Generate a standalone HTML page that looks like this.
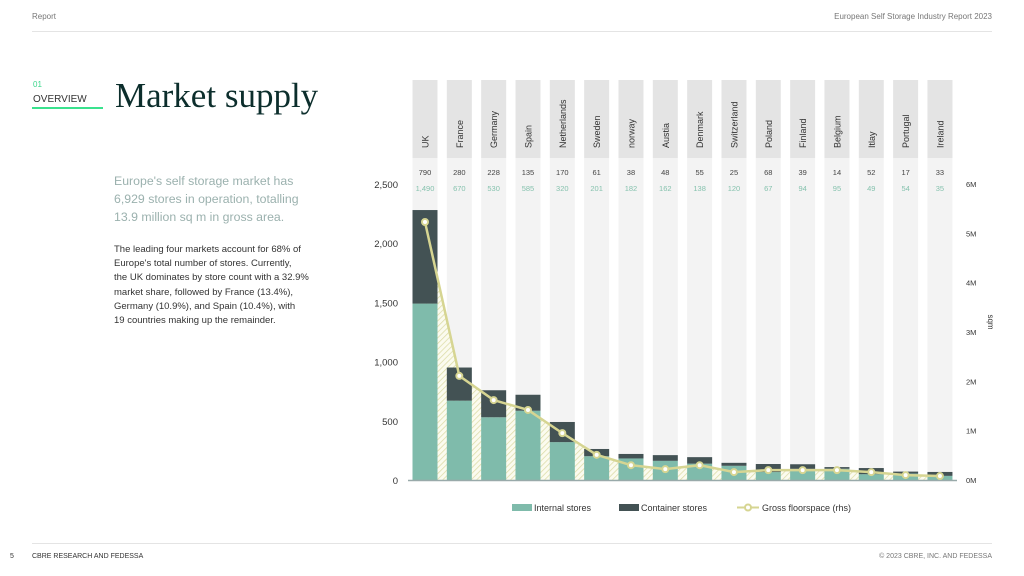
<!DOCTYPE html>
<html><head><meta charset="utf-8"><style>
body{margin:0;width:1024px;height:576px;background:#fff;font-family:"Liberation Sans",sans-serif;position:relative;overflow:hidden}
.a{position:absolute}
</style></head><body>
<div class="a" style="left:32px;top:12px;font-size:8px;color:#777">Report</div>
<div class="a" style="right:32px;top:12px;font-size:8px;color:#777">European Self Storage Industry Report 2023</div>
<div class="a" style="left:32px;right:32px;top:31px;border-top:1px solid #e4e4e4"></div>
<div class="a" style="left:33px;top:80px;font-size:8px;color:#3cd68c">01</div>
<div class="a" style="left:33px;top:94px;font-size:10px;color:#333">OVERVIEW</div>
<div class="a" style="left:32px;top:107px;width:71px;height:2px;background:#3ae28e"></div>
<div class="a" style="left:115px;top:76px;font-family:'Liberation Serif',serif;font-size:35px;color:#0c2e2c">Market supply</div>
<div class="a" style="left:114px;top:172px;width:205px;font-size:12.3px;line-height:18px;color:#9bb1ae">Europe's self storage market has 6,929 stores in operation, totalling 13.9 million sq m in gross area.</div>
<div class="a" style="left:114px;top:243px;width:260px;font-size:9.5px;line-height:14.2px;color:#333;white-space:nowrap">The leading four markets account for 68% of<br>Europe's total number of stores. Currently,<br>the UK dominates by store count with a 32.9%<br>market share, followed by France (13.4%),<br>Germany (10.9%), and Spain (10.4%), with<br>19 countries making up the remainder.</div>
<div class="a" style="left:32px;right:32px;top:543px;border-top:1px solid #e4e4e4"></div>
<div class="a" style="left:10px;top:553px;font-size:7px;color:#333">5</div>
<div class="a" style="left:32px;top:553px;font-size:7px;color:#333">CBRE RESEARCH AND FEDESSA</div>
<div class="a" style="right:32px;top:553px;font-size:7px;color:#777">© 2023 CBRE, INC. AND FEDESSA</div>
<svg class="a" style="left:0;top:0" width="1024" height="576" id="ch">
<defs><pattern id="hatch" width="4" height="4" patternUnits="userSpaceOnUse" patternTransform="rotate(45)"><rect width="4" height="4" fill="#fbfbef"/><line x1="0" y1="0" x2="0" y2="4" stroke="#dcdba6" stroke-width="1.5"/></pattern></defs>
</svg>
<script>
const countries=["UK","France","Germany","Spain","Netherlands","Sweden","norway","Austia","Denmark","Switzerland","Poland","Finland","Belgium","Itlay","Portugal","Ireland"];
const internal=[1490,670,530,585,320,201,182,162,138,120,67,94,95,49,54,35];
const container=[790,280,228,135,170,61,38,48,55,25,68,39,14,52,17,33];
const floorspace=[5.23,2.11,1.62,1.42,0.95,0.51,0.30,0.22,0.30,0.16,0.20,0.20,0.20,0.16,0.10,0.08];
const leftTicks=[0,500,1000,1500,2000,2500];
const rightTicks=[0,1,2,3,4,5,6];
const svg=document.getElementById('ch');const NS='http://www.w3.org/2000/svg';
function el(t,a,txt){const e=document.createElementNS(NS,t);for(const k in a)e.setAttribute(k,a[k]);if(txt!==undefined)e.textContent=txt;svg.appendChild(e);return e;}
const x0=425,step=34.33,bw=25,base=480;
const xc=i=>x0+i*step;
const yL=v=>base-v*(296/2500);
const yR=v=>base-v*(296/6);
countries.forEach((c,i)=>{
 let r=el('rect',{x:xc(i)-bw/2,y:80,width:bw,height:78,fill:'#e4e4e4'});
 
 r=el('rect',{x:xc(i)-bw/2,y:158,width:bw,height:322,fill:'#f3f3f3'});
 
 const t=el('text',{x:0,y:0,transform:`translate(${xc(i)+3.5},148) rotate(-90)`,'font-size':9,fill:'#333'},c);
 
 const t1=el('text',{x:xc(i),y:175,'font-size':7.5,fill:'#444','text-anchor':'middle'},container[i]);
 
 const t2=el('text',{x:xc(i),y:191,'font-size':7.5,fill:'#86c2ae','text-anchor':'middle'},internal[i].toLocaleString('en-US'));
 
});
let pts=floorspace.map((v,i)=>[xc(i),yR(v)]);
let area='M'+xc(0)+','+base+' '+pts.map(p=>'L'+p[0]+','+p[1]).join(' ')+' L'+xc(15)+','+base+'Z';
const ar=el('path',{d:area,fill:'url(#hatch)'});

countries.forEach((c,i)=>{
 const b1=el('rect',{x:xc(i)-bw/2,y:yL(internal[i]),width:bw,height:base-yL(internal[i]),fill:'#7fbbab'});
 
 const b2=el('rect',{x:xc(i)-bw/2,y:yL(internal[i]+container[i]),width:bw,height:yL(internal[i])-yL(internal[i]+container[i]),fill:'#435254'});
 
});
const ax=el('line',{x1:408,x2:957,y1:base+0.5,y2:base+0.5,stroke:'#9aa','stroke-width':1.5});

const ln=el('polyline',{points:pts.map(p=>p.join(',')).join(' '),fill:'none',stroke:'#d6d592','stroke-width':2.5});

pts.forEach(p=>{const c=el('circle',{cx:p[0],cy:p[1],r:3,fill:'#fff',stroke:'#d6d592','stroke-width':2});
 });
leftTicks.forEach(v=>{const t=el('text',{x:398,y:yL(v)+4,'font-size':9.5,fill:'#333','text-anchor':'end'},v.toLocaleString('en-US'));
 });
rightTicks.forEach(v=>{const t=el('text',{x:966,y:yR(v)+3,'font-size':7.5,fill:'#333'},v+'M');
 });
const yt=el('text',{x:0,y:0,transform:'translate(988,322) rotate(90)','font-size':8,fill:'#333','text-anchor':'middle'},'sqm');

let g;
g=el('rect',{x:512,y:504,width:20,height:7,fill:'#7fbbab'});
g=el('text',{x:534,y:511,'font-size':9,fill:'#333'},'Internal stores');
g=el('rect',{x:619,y:504,width:20,height:7,fill:'#435254'});
g=el('text',{x:641,y:511,'font-size':9,fill:'#333'},'Container stores');
g=el('line',{x1:737,x2:759,y1:507.5,y2:507.5,stroke:'#d6d592','stroke-width':2});
g=el('circle',{cx:748,cy:507.5,r:3,fill:'#fff',stroke:'#d6d592','stroke-width':2});
g=el('text',{x:762,y:511,'font-size':9,fill:'#333'},'Gross floorspace (rhs)');
</script>
</body></html>
